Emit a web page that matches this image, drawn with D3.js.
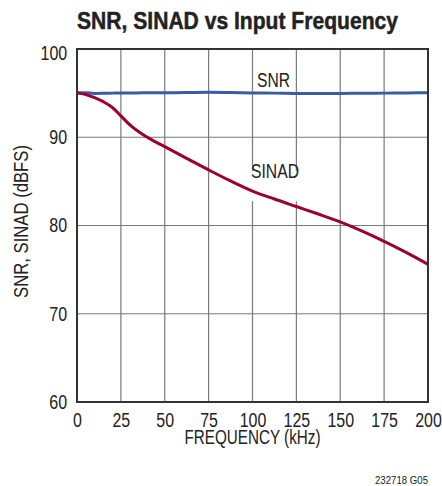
<!DOCTYPE html>
<html>
<head>
<meta charset="utf-8">
<script src="https://cdn.jsdelivr.net/npm/d3@7"></script>
<style>
  body { margin: 0; background: #fff; }
  text { font-family: "Liberation Sans", Arial, sans-serif; fill: #222; }
</style>
</head>
<body>
<div id="chart"></div>
<script>

// data
var freqs = [0, 5, 10, 15, 20, 25, 30, 37.5, 45, 50, 62.5, 75, 87.5, 100, 112.5, 125, 137.5, 150, 162.5, 175, 187.5, 200];
var snr   = [95.05, 95.05, 94.97, 94.98, 95.0, 95.02, 95.02, 95.03, 95.03, 95.04, 95.06, 95.1, 95.07, 95.02, 95.0, 94.97, 94.96, 94.97, 94.98, 95.0, 95.02, 95.05];
var sinad = [95.0, 94.85, 94.5, 94.03, 93.4, 92.42, 91.42, 90.3, 89.45, 88.93, 87.6, 86.3, 85.05, 83.9, 83.0, 82.15, 81.3, 80.4, 79.35, 78.2, 76.95, 75.6];
var xTicks = [0, 25, 50, 75, 100, 125, 150, 175, 200];
var yTicks = [60, 70, 80, 90, 100];

// set the dimensions and margins of the graph
var margin = {top: 49, right: 14, bottom: 84, left: 77},
    width = 442 - margin.left - margin.right,
    height = 486 - margin.top - margin.bottom;

var x = d3.scaleLinear().domain([0, 200]).range([0, width]);
var y = d3.scaleLinear().domain([60, 100]).range([height, 0]);

var squeeze = "scale(0.82,1)";   // narrow the Arial-like face toward a condensed look

var svg = d3.select("#chart").append("svg")
    .attr("width", 442)
    .attr("height", 486);

// title
svg.append("text")
    .attr("x", 77)
    .attr("y", 29)
    .attr("textLength", 321)
    .attr("lengthAdjust", "spacingAndGlyphs")
    .style("font-size", "24.5px")
    .style("font-weight", "bold")
    .style("stroke", "#222")
    .style("stroke-width", 0.5)
    .text("SNR, SINAD vs Input Frequency");

var g = svg.append("g")
    .attr("transform", "translate(" + margin.left + "," + margin.top + ")");

// grid
g.append("g")
    .selectAll("line")
    .data(xTicks.slice(1, -1))
    .enter().append("line")
    .attr("x1", function(d) { return x(d); })
    .attr("x2", function(d) { return x(d); })
    .attr("y1", 0)
    .attr("y2", height)
    .attr("stroke", "#7a7a7a")
    .attr("stroke-width", 1.2);

g.append("g")
    .selectAll("line")
    .data(yTicks.slice(1, -1))
    .enter().append("line")
    .attr("x1", 0)
    .attr("x2", width)
    .attr("y1", function(d) { return y(d); })
    .attr("y2", function(d) { return y(d); })
    .attr("stroke", "#7a7a7a")
    .attr("stroke-width", 1.2);

// x axis
var xAxis = g.append("g")
    .attr("transform", "translate(0," + height + ")")
    .call(d3.axisBottom(x).tickValues(xTicks).tickSize(0).tickPadding(11));
xAxis.select(".domain").remove();
xAxis.selectAll("text")
    .style("font-size", "19.5px")
    .attr("fill", "#222")
    .attr("transform", squeeze);

// y axis
var yAxis = g.append("g")
    .call(d3.axisLeft(y).tickValues(yTicks).tickSize(0).tickPadding(12));
yAxis.select(".domain").remove();
yAxis.selectAll("text")
    .style("font-size", "19.5px")
    .attr("fill", "#222")
    .attr("transform", squeeze)
    .attr("y", function(d) { return d === 100 ? 4 : 0; });

// axis titles
g.append("text")
    .attr("x", width / 2 - 68)
    .attr("y", height + 42)
    .attr("textLength", 136)
    .attr("lengthAdjust", "spacingAndGlyphs")
    .style("font-size", "19.5px")
    .text("FREQUENCY (kHz)");

g.append("text")
    .attr("transform", "translate(" + (28 - margin.left) + "," + (298 - margin.top) + ") rotate(-90)")
    .attr("textLength", 153)
    .attr("lengthAdjust", "spacingAndGlyphs")
    .style("font-size", "19.5px")
    .text("SNR, SINAD (dBFS)");

// series lines
var line = function(vals) {
  return d3.line()
    .x(function(d, i) { return x(freqs[i]); })
    .y(function(d) { return y(d); })
    .curve(d3.curveMonotoneX)(vals);
};

// SINAD label box
g.append("rect")
    .attr("x", x(97.5))
    .attr("y", y(85.7) - 4)
    .attr("width", 54)
    .attr("height", 30)
    .attr("fill", "#fff");

g.append("path")
    .attr("d", line(snr))
    .attr("fill", "none")
    .attr("stroke", "#3b5ba7")
    .attr("stroke-width", 3);

g.append("path")
    .attr("d", line(sinad))
    .attr("fill", "none")
    .attr("stroke", "#9a0030")
    .attr("stroke-width", 3);

// labels
g.append("text")
    .attr("x", 257 - margin.left)
    .attr("y", 87 - margin.top)
    .attr("textLength", 33)
    .attr("lengthAdjust", "spacingAndGlyphs")
    .style("font-size", "19.5px")
    .text("SNR");

g.append("text")
    .attr("x", 251 - margin.left)
    .attr("y", 178 - margin.top)
    .attr("textLength", 48)
    .attr("lengthAdjust", "spacingAndGlyphs")
    .style("font-size", "19.5px")
    .text("SINAD");

// frame
g.append("rect")
    .attr("width", width)
    .attr("height", height)
    .attr("fill", "none")
    .attr("stroke", "#333")
    .attr("stroke-width", 2);

// part code
svg.append("text")
    .attr("x", 375)
    .attr("y", 484)
    .attr("textLength", 53)
    .attr("lengthAdjust", "spacingAndGlyphs")
    .style("font-size", "11px")
    .text("232718 G05");

</script>
</body>
</html>
